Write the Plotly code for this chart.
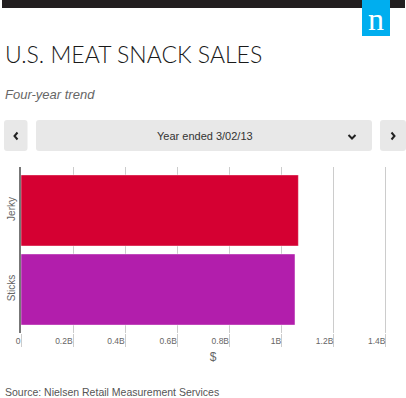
import plotly.graph_objects as go

W, H = 406, 398

categories = ["Jerky", "Sticks"]
sales = [1.064e9, 1.051e9]
bar_colors = ["#D50032", "#B21EAC"]
tick_vals = [0, 0.2e9, 0.4e9, 0.6e9, 0.8e9, 1.0e9, 1.2e9, 1.4e9]
tick_labels = ["0", "0.2B", "0.4B", "0.6B", "0.8B", "1B", "1.2B", "1.4B"]

title_text = "U.S. MEAT SNACK SALES"
subtitle_text = "Four-year trend"
selector_text = "Year ended 3/02/13"
source_text = "Source: Nielsen Retail Measurement Services"


def px(x):
    return x / W


def py(y):
    return 1 - y / H


def rrect(x0, y0, x1, y1, r=3):
    a, b, c, d = px(x0), py(y0), px(x1), py(y1)
    rx, ry = r / W, r / H
    return (f"M {a+rx},{b} L {c-rx},{b} Q {c},{b} {c},{b-ry} L {c},{d+ry} "
            f"Q {c},{d} {c-rx},{d} L {a+rx},{d} Q {a},{d} {a},{d+ry} "
            f"L {a},{b-ry} Q {a},{b} {a+rx},{b} Z")


def pline(points):
    return "M " + " L ".join(f"{px(x)},{py(y)}" for x, y in points)


fig = go.Figure()
fig.add_trace(go.Bar(
    x=sales, y=categories, orientation="h",
    marker=dict(color=bar_colors, line=dict(color="rgba(255,255,255,0.45)", width=1)),
    hoverinfo="skip",
))

shapes = [
    dict(type="rect", xref="paper", yref="paper", x0=px(2), x1=px(405), y0=py(8), y1=py(0),
         fillcolor="#231F20", line=dict(width=0), layer="above"),
    dict(type="rect", xref="paper", yref="paper", x0=px(362), x1=px(390), y0=py(36), y1=py(0),
         fillcolor="#00AEEF", line=dict(width=0), layer="above"),
    dict(type="path", xref="paper", yref="paper", path=rrect(4, 120, 27.5, 151),
         fillcolor="#E8E8E8", line=dict(width=0)),
    dict(type="path", xref="paper", yref="paper", path=rrect(36, 120, 372, 151),
         fillcolor="#E8E8E8", line=dict(width=0)),
    dict(type="path", xref="paper", yref="paper", path=rrect(380, 120, 406, 151),
         fillcolor="#E8E8E8", line=dict(width=0)),
    dict(type="path", xref="paper", yref="paper", path=pline([(17.5, 132.5), (14.5, 136), (17.5, 139.5)]),
         line=dict(color="#222222", width=2)),
    dict(type="path", xref="paper", yref="paper", path=pline([(391.5, 132.5), (394.5, 136), (391.5, 139.5)]),
         line=dict(color="#222222", width=2)),
    dict(type="path", xref="paper", yref="paper", path=pline([(348.5, 135), (352, 138.5), (355.5, 135)]),
         line=dict(color="#222222", width=2)),
]

annotations = [
    dict(text="n", x=px(376), y=py(19), xref="paper", yref="paper", showarrow=False,
         xanchor="center", yanchor="middle",
         font=dict(family="Liberation Serif", size=32, color="white")),
    dict(text=title_text, x=px(3), y=py(54), xref="paper", yref="paper", showarrow=False,
         xanchor="left", yanchor="middle",
         font=dict(family="Lato", size=23, color="#1a1a1a", weight=300)),
    dict(text=f"<i>{subtitle_text}</i>", x=px(3), y=py(94), xref="paper", yref="paper",
         showarrow=False, xanchor="left", yanchor="middle",
         font=dict(family="Liberation Sans", size=13, color="#666666")),
    dict(text=selector_text, x=px(205), y=py(136), xref="paper", yref="paper",
         showarrow=False, xanchor="center", yanchor="middle",
         font=dict(family="Liberation Sans", size=11, color="#333333")),
    dict(text=source_text, x=px(3), y=py(392), xref="paper", yref="paper",
         showarrow=False, xanchor="left", yanchor="middle",
         font=dict(family="Liberation Sans", size=10.5, color="#555555")),
]

fig.update_layout(
    template="none",
    width=W, height=H,
    margin=dict(l=0, r=0, t=0, b=0),
    paper_bgcolor="white", plot_bgcolor="white",
    showlegend=False,
    bargap=0.1,
    shapes=shapes,
    annotations=annotations,
    xaxis=dict(
        domain=[px(21), px(405)],
        range=[0, 1.473e9],
        tickvals=tick_vals, ticktext=tick_labels,
        ticklabelposition="outside left",
        ticks="outside", ticklen=13, tickcolor="#cccccc", tickwidth=1,
        showgrid=True, gridcolor="#cccccc", gridwidth=1,
        zeroline=False, showline=False,
        tickfont=dict(family="Liberation Sans", size=8.5, color="#666666"),
        title=dict(text="$", font=dict(family="Liberation Sans", size=12, color="#666666"), standoff=7),
        automargin=False, fixedrange=True,
    ),
    yaxis=dict(
        domain=[py(333), py(167)],
        range=[1.55, -0.55],
        type="category",
        tickangle=-90,
        showgrid=False, zeroline=False,
        showline=True, linecolor="#777777", linewidth=2,
        ticks="",
        tickfont=dict(family="Liberation Sans", size=10, color="#666666"),
        automargin=False, fixedrange=True,
    ),
)

fig.write_html("out.html", config={"displayModeBar": False},
               post_script="document.body.style.margin='0';document.body.style.overflow='hidden';")
